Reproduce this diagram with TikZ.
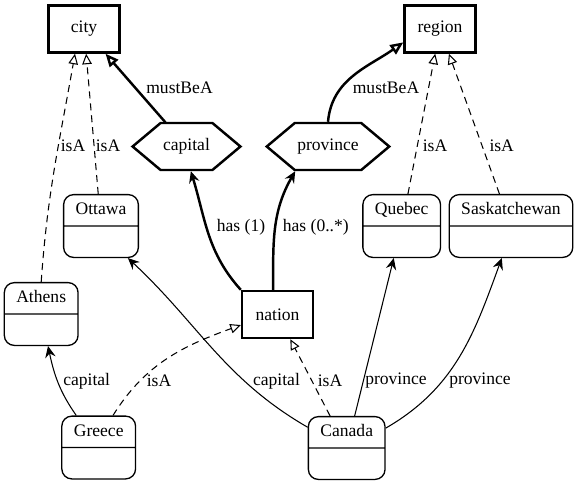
\documentclass[tikz,border=0pt]{standalone}
\usepackage{fontspec}
\setmainfont{Liberation Serif}
\usetikzlibrary{arrows.meta,shapes.multipart,shapes.symbols}

\begin{document}
\begin{tikzpicture}[x=0.02cm, y=-0.02cm,
	class/.style={draw, line width=1.4pt, minimum width=1.42cm, minimum height=0.94cm},
	role/.style={draw, line width=1.4pt, shape=signal, signal to=west and east, signal pointer angle=80, inner xsep=0.05cm, minimum height=0.94cm},
	inst/.style={draw, line width=0.75pt, rounded corners=0.2cm, rectangle split, rectangle split parts=2, inner xsep=0.24cm, inner ysep=0.09cm},
	isa/.style={-{Triangle[open,length=0.21cm,width=0.19cm]}, dash pattern=on 0.14cm off 0.1cm, line width=0.6pt},
	rel/.style={-{Stealth[length=0.23cm,width=0.21cm,inset=0.08cm]}, line width=0.6pt},
	has/.style={rel, line width=1.4pt},
	must/.style={-{Triangle[open,length=0.26cm,width=0.22cm]}, line width=1.4pt}]
	\useasboundingbox (0,0) rectangle (577,485);
	% classes and roles
	\node [class] (city) at (84,29) {city};
	\node [class] (region) at (440,29) {region};
	\node [role] (capital) at (186.5,146.5) {capital};
	\node [role] (province) at (328,146.5) {province};
	\node [class] (nation) at (277.5,314.5) {nation};
	% instances
	\node [inst] (ottawa) at (101,226) {Ottawa\strut \nodepart{two}\strut};
	\node [inst] (quebec) at (401.7,226) {Quebec\strut \nodepart{two}\strut};
	\node [inst] (sask) at (511,226) {Saskatchewan\strut \nodepart{two}\strut};
	\node [inst] (athens) at (41.2,314) {Athens\strut \nodepart{two}\strut};
	\node [inst] (greece) at (98.7,447.5) {Greece\strut \nodepart{two}\strut};
	\node [inst] (canada) at (346.7,448) {Canada\strut \nodepart{two}\strut};
	% edges
	\draw [must] (capital) -- (city);
	\draw [must] (province.north) to [out=85, in=215] (region.200);
	\draw [isa] (ottawa) -- (city);
	\draw [isa] (athens.north) to [out=86, in=-100] (city.-110);
	\draw [isa] (quebec) -- (region);
	\draw [isa] (sask) -- (region);
	\draw [has] (nation.north west) to [out=132, in=-73] (capital.-80);
	\draw [has] (nation.100) to [out=90, in=-120] (province.-143);
	\draw [rel] (greece.125) to [out=125, in=-78] (athens.-78);
	\draw [isa] (greece.66) to [out=58, in=200] (nation.196);
	\draw [rel] (canada.152) to [out=150, in=-43] (ottawa.-50);
	\draw [isa] (canada) -- (nation);
	\draw [rel] (canada) -- (quebec);
	\draw [rel] (canada.27) to [out=30, in=-110] (sask.-106);
	% labels
	\node (lm1) at (179.5,88) {mustBeA};
	\node (lm2) at (386,88) {mustBeA};
	\node (li1) at (73,146) {isA};
	\node (li2) at (108,146) {isA};
	\node (li3) at (435,146) {isA};
	\node (li4) at (501.7,146) {isA};
	\node (lh1) at (241,227) {has (1)};
	\node (lh2) at (315.8,227) {has (0..*)};
	\node (lc1) at (86.7,381) {capital};
	\node (li5) at (159,381) {isA};
	\node (lc2) at (276.5,381) {capital};
	\node (li6) at (330,381) {isA};
	\node (lp1) at (396,381) {province};
	\node (lp2) at (480,381) {province};
\end{tikzpicture}
\end{document}
